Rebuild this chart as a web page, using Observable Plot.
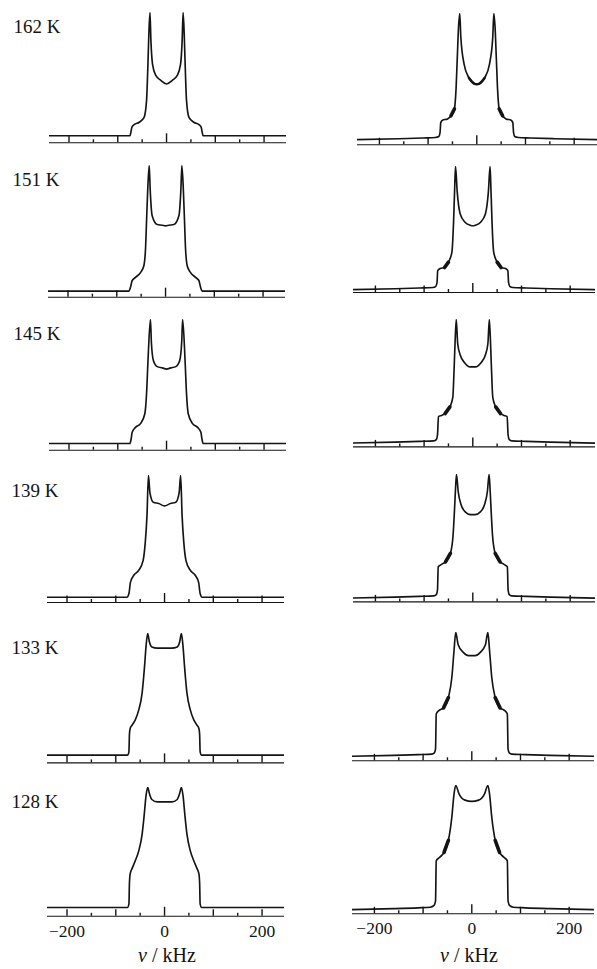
<!DOCTYPE html>
<html>
<head>
<meta charset="utf-8">
<script src="https://cdn.jsdelivr.net/npm/d3@7"></script>
<script src="https://cdn.jsdelivr.net/npm/@observablehq/plot@0.6"></script>
<style>
  body { margin: 0; background: #fff; }
  #chart { position: relative; width: 597px; height: 969px; overflow: hidden; background: #fff;
           font-family: "Liberation Serif", "Times New Roman", serif; color: #111; }
  #chart svg { position: absolute; overflow: visible; }
  #chart .xlabel { position: absolute; top: 944px; font-size: 20px; white-space: nowrap; transform: translateX(-50%); }
</style>
</head>
<body>
<div id="chart"></div>
<script>
// Temperatures of the spectra, top to bottom
const temperatures = ["162 K", "151 K", "145 K", "139 K", "133 K", "128 K"];

// Frequency-axis ticks (kHz)
const majorTicks = [-200, -100, 100, 200];
const minorTicks = [-150, -50, 50, 150];
const centreTick = [0];
const tickValues = [-200, 0, 200];
const tickLabels = ["\u2212200", "0", "200"];

// Left column spectra: [frequency kHz, normalised intensity]
const L162 = [[-250,0],[-75,0],[-73,0.03],[-71,0.07],[-66.5,0.09],[-56,0.11],[-46,0.15],[-41,0.285],[-38.4,0.55],[-36.3,0.82],[-34,1],[-32,0.77],[-28.7,0.58],[-22,0.49],[-11.7,0.45],[0,0.42],
  [11.7,0.45],[22,0.49],[28.7,0.58],[32,0.77],[34,1],[36.3,0.82],[38.4,0.55],[41,0.285],[46,0.15],[56,0.11],[66.5,0.09],[71,0.07],[73,0.03],[75,0],[250,0]];
const L151 = [[-250,0],[-75,0],[-72,0.03],[-68.4,0.085],[-61.6,0.11],[-51,0.15],[-44.6,0.2],[-41,0.34],[-39,0.55],[-36.5,0.81],[-33.5,1],[-31.5,0.81],[-27.4,0.6],[-17,0.53],[-6.8,0.525],[0,0.52],
  [6.8,0.525],[17,0.53],[27.4,0.6],[31.5,0.81],[33.5,1],[36.5,0.81],[39,0.55],[41,0.34],[44.6,0.2],[51,0.15],[61.6,0.11],[68.4,0.085],[72,0.03],[75,0],[250,0]];
const L145 = [[-250,0],[-75,0],[-72.5,0.04],[-70.5,0.09],[-63.7,0.13],[-53.4,0.16],[-44.5,0.24],[-41,0.4],[-38,0.67],[-33,1],[-31,0.81],[-27,0.67],[-19,0.62],[-8.8,0.61],[0,0.6],
  [8.8,0.61],[19,0.62],[27,0.67],[31,0.81],[33,1],[38,0.67],[41,0.4],[44.5,0.24],[53.4,0.16],[63.7,0.13],[70.5,0.09],[72.5,0.04],[75,0],[250,0]];
const L139 = [[-250,0],[-77,0],[-73,0.03],[-70,0.12],[-63,0.18],[-53,0.22],[-44,0.3],[-39.5,0.45],[-36,0.67],[-33,1],[-30,0.86],[-23,0.78],[-12,0.77],[0,0.75],
  [12,0.77],[23,0.78],[30,0.86],[33,1],[36,0.67],[39.5,0.45],[44,0.3],[53,0.22],[63,0.18],[70,0.12],[73,0.03],[77,0],[250,0]];
const L133 = [[-250,0],[-76,0],[-73,0.03],[-72,0.17],[-70.5,0.22],[-66,0.25],[-60,0.29],[-53,0.37],[-46,0.51],[-41,0.73],[-38,0.89],[-34.5,1],[-31,0.93],[-26,0.89],[-15,0.88],[0,0.88],
  [15,0.88],[26,0.89],[31,0.93],[34.5,1],[38,0.89],[41,0.73],[46,0.51],[53,0.37],[60,0.29],[66,0.25],[70.5,0.22],[72,0.17],[73,0.03],[76,0],[250,0]];
const L128 = [[-250,0],[-76,0],[-73,0.03],[-72,0.2],[-70.5,0.28],[-66,0.33],[-60,0.39],[-53,0.47],[-46,0.61],[-41.5,0.78],[-38,0.93],[-34.5,1],[-31,0.95],[-26,0.9],[-15,0.88],[0,0.88],
  [15,0.88],[26,0.9],[31,0.95],[34.5,1],[38,0.93],[41.5,0.78],[46,0.61],[53,0.47],[60,0.39],[66,0.33],[70.5,0.28],[72,0.2],[73,0.03],[76,0],[250,0]];

// Right column spectra: [frequency kHz, normalised intensity]
const R162 = [[-250,-0.018],[-160,-0.01],[-110,-0.004],[-85,0],[-78,0.008],[-75.5,0.04],[-74,0.12],[-70.5,0.14],[-60,0.15],[-53,0.175],[-46,0.23],[-42.5,0.4],[-40,0.65],[-37.5,0.89],[-35,1],[-32.8,0.81],[-26,0.59],[-16,0.48],[-5.5,0.435],[0,0.43],
  [5.5,0.435],[16,0.48],[26,0.59],[32.8,0.81],[35,1],[37.5,0.89],[40,0.65],[42.5,0.4],[46,0.23],[53,0.175],[60,0.15],[70.5,0.14],[74,0.12],[75.5,0.04],[78,0.008],[85,0],[110,-0.004],[160,-0.01],[250,-0.018]];
const R151 = [[-250,-0.018],[-160,-0.01],[-110,-0.004],[-82,0],[-76,0.01],[-73.5,0.04],[-72,0.14],[-67,0.157],[-58,0.165],[-50,0.21],[-43,0.29],[-39.5,0.54],[-37.3,0.81],[-35.5,1],[-32,0.79],[-26,0.61],[-16,0.54],[-5.5,0.515],[0,0.51],
  [5.5,0.515],[16,0.54],[26,0.61],[32,0.79],[35.5,1],[37.3,0.81],[39.5,0.54],[43,0.29],[50,0.21],[58,0.165],[67,0.157],[72,0.14],[73.5,0.04],[76,0.01],[82,0],[110,-0.004],[160,-0.01],[250,-0.018]];
const R145 = [[-250,-0.018],[-160,-0.01],[-110,-0.004],[-80,0],[-75,0.01],[-72.5,0.05],[-70.5,0.2],[-64,0.21],[-57,0.225],[-47,0.28],[-41,0.36],[-38.5,0.58],[-36.5,0.8],[-34,1],[-31,0.8],[-26,0.71],[-16,0.64],[-5.5,0.61],[0,0.61],
  [5.5,0.61],[16,0.64],[26,0.71],[31,0.8],[34,1],[36.5,0.8],[38.5,0.58],[41,0.36],[47,0.28],[57,0.225],[64,0.21],[70.5,0.2],[72.5,0.05],[75,0.01],[80,0],[110,-0.004],[160,-0.01],[250,-0.018]];
const R139 = [[-250,-0.018],[-160,-0.01],[-110,-0.004],[-80,0],[-75,0.01],[-72.5,0.05],[-71,0.24],[-64,0.26],[-56,0.28],[-46,0.35],[-40.5,0.5],[-37.8,0.69],[-35.5,0.88],[-33.5,1],[-30,0.86],[-24,0.75],[-15,0.69],[-5,0.67],[0,0.67],
  [5,0.67],[15,0.69],[24,0.75],[30,0.86],[33.5,1],[35.5,0.88],[37.8,0.69],[40.5,0.5],[46,0.35],[56,0.28],[64,0.26],[71,0.24],[72.5,0.05],[75,0.01],[80,0],[110,-0.004],[160,-0.01],[250,-0.018]];
const R133 = [[-250,-0.018],[-160,-0.01],[-110,-0.004],[-82,0],[-77,0.01],[-74.5,0.04],[-73,0.33],[-67,0.36],[-58,0.38],[-48,0.465],[-41,0.63],[-36.5,0.85],[-33,1],[-28,0.9],[-17,0.835],[-7,0.81],[0,0.81],
  [7,0.81],[17,0.835],[28,0.9],[33,1],[36.5,0.85],[41,0.63],[48,0.465],[58,0.38],[67,0.36],[73,0.33],[74.5,0.04],[77,0.01],[82,0],[110,-0.004],[160,-0.01],[250,-0.018]];
const R128 = [[-250,-0.02],[-160,-0.012],[-110,-0.005],[-85,0],[-78,0.012],[-74.5,0.05],[-73,0.38],[-66,0.41],[-57,0.45],[-48,0.55],[-41,0.74],[-36.5,0.93],[-33,1],[-26,0.93],[-14,0.88],[0,0.87],
  [14,0.88],[26,0.93],[33,1],[36.5,0.93],[41,0.74],[48,0.55],[57,0.45],[66,0.41],[73,0.38],[74.5,0.05],[78,0.012],[85,0],[110,-0.005],[160,-0.012],[250,-0.02]];

// Noisy frequency bands of the right-column traces (kHz)
const noiseR162 = [[-55, -45], [45, 55], [-18, 18]];
const noiseR151 = [[-58, -49], [49, 58]];
const noiseR145 = [[-58, -46], [46, 58]];
const noiseR139 = [[-56, -45], [45, 56]];
const noiseR133 = [[-58, -47], [47, 58]];
const noiseR128 = [[-57, -47], [47, 57]];

const leftSpectra = [L162, L151, L145, L139, L133, L128];
const rightSpectra = [R162, R151, R145, R139, R133, R128];
const rightNoise = [noiseR162, noiseR151, noiseR145, noiseR139, noiseR133, noiseR128];

// Panel placement in the page (px): peak top, trace baseline, axis line, x of 0 kHz
const leftLayout = [
  {peak: 11.7, base: 135, axis: 142, zero: 165.7},
  {peak: 165, base: 290.7, axis: 296.7, zero: 165},
  {peak: 319.3, base: 443.3, axis: 450, zero: 166},
  {peak: 475, base: 596.7, axis: 602, zero: 164},
  {peak: 633.3, base: 755, axis: 762.7, zero: 164},
  {peak: 786.7, base: 906.7, axis: 915.5, zero: 164}
];
const rightLayout = [
  {peak: 12.7, base: 136.7, axis: 144, zero: 476},
  {peak: 165.7, base: 286.7, axis: 291.7, zero: 472.7},
  {peak: 319.3, base: 440.7, axis: 446.7, zero: 472.7},
  {peak: 474.3, base: 595.7, axis: 601.7, zero: 472.3},
  {peak: 631.7, base: 753.3, axis: 760, zero: 471.7},
  {peak: 785, base: 906.7, axis: 913.3, zero: 471.7}
];

const chart = document.getElementById("chart");
const ink = "#141414";
const serif = "Liberation Serif, Times New Roman, serif";

function drawPanel(spec, noise, geo, side, label, isBottom) {
  const pad = 4;
  const H = geo.base - geo.peak;           // pixels per unit intensity
  const gap = geo.axis - geo.base;         // trace baseline to axis line
  const u = px => px / H;                  // pixel length in intensity units
  const axisI = -u(gap);
  const mb = isBottom ? 40 : 3;
  const height = pad + H + gap + mb;
  const ml = side === "left" ? 48 : 55;
  const width = side === "left" ? 285 : 297;
  const xDomain = side === "left" ? [-240, 246] : [-245, 252];
  const zeroAt = side === "left" ? 165 : 474.3;

  const marks = [
    Plot.ruleY([axisI], {stroke: ink, strokeWidth: 1.1}),
    Plot.ruleX(majorTicks, {y1: axisI, y2: axisI + u(6.5), stroke: ink, strokeWidth: 1.4}),
    Plot.ruleX(minorTicks, {y1: axisI, y2: axisI + u(3), stroke: ink, strokeWidth: 1.4}),
    Plot.ruleX(centreTick, {y1: axisI, y2: axisI + u(9), stroke: ink, strokeWidth: 1.4}),
    Plot.line(spec, {x: d => d[0], y: d => d[1], curve: "monotone-x", clip: true,
      stroke: ink, strokeWidth: 1.65, strokeLinejoin: "round"})
  ];
  for (const [a, b] of noise) {
    const seg = spec.filter(d => d[0] >= a && d[0] <= b);
    const wide = b - a > 20;
    marks.push(Plot.line(seg, {x: d => d[0], y: d => d[1], curve: "monotone-x",
      stroke: ink, strokeWidth: wide ? 2.6 : 3.6, strokeLinecap: "round"}));
  }
  if (label) {
    marks.push(Plot.text([label], {frameAnchor: "top-left", dx: -36, dy: 21, textAnchor: "start",
      lineAnchor: "bottom", fontSize: 19, fontFamily: serif, fill: ink}));
  }
  if (isBottom) {
    const rows = tickValues.map((v, i) => ({v, t: tickLabels[i]}));
    marks.push(Plot.text(rows, {x: "v", y: axisI, text: "t", dy: 15, lineAnchor: "middle",
      fontSize: 17.5, fontFamily: serif, fill: ink}));
  }

  const svg = Plot.plot({
    width, height,
    marginLeft: ml, marginRight: 0, marginTop: pad, marginBottom: mb,
    x: {domain: xDomain, axis: null},
    y: {domain: [axisI, 1], axis: null},
    style: {background: "transparent", fontFamily: serif},
    marks
  });
  svg.style.left = `${(side === "left" ? 0 : 300) + (geo.zero - zeroAt)}px`;
  svg.style.top = `${geo.peak - pad}px`;
  chart.append(svg);
}

temperatures.forEach((t, i) => {
  const last = i === temperatures.length - 1;
  drawPanel(leftSpectra[i], [], leftLayout[i], "left", t, last);
  drawPanel(rightSpectra[i], rightNoise[i], rightLayout[i], "right", null, last);
});

// Frequency axis titles under each column
for (const cx of [167, 469]) {
  const div = document.createElement("div");
  div.className = "xlabel";
  div.style.left = `${cx}px`;
  div.innerHTML = "<i>\u03BD</i> / kHz";
  chart.append(div);
}
</script>
</body>
</html>
